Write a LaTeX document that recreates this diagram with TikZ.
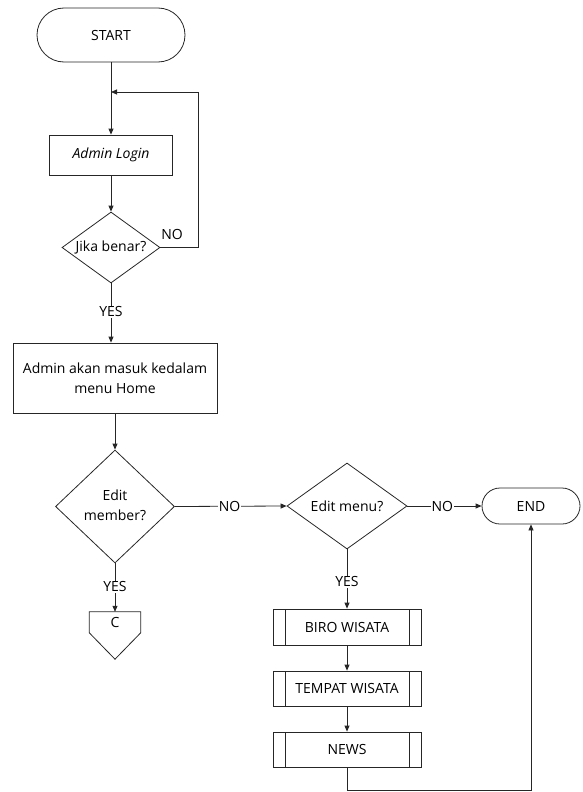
\documentclass[tikz,border=0pt]{standalone}
\usepackage{fontspec}
\setmainfont{Open Sans}
\usetikzlibrary{shapes.geometric,shapes.misc,arrows.meta,calc}
\begin{document}
\begin{tikzpicture}[x=1pt,y=-1pt,
  every node/.style={font=\fontsize{14}{20.5}\selectfont, inner sep=0pt},
  line/.style={line width=0.8pt, draw=black!85},
  arr/.style={line, -{Triangle[length=6pt,width=5pt]}},
  term/.style={rounded rectangle, draw, line width=0.8pt, draw=black!85},
  proc/.style={rectangle, draw, line width=0.8pt, draw=black!85, align=center},
  dec/.style={diamond, draw, line width=0.8pt, draw=black!85},
  predef/.style={proc, path picture={
      \draw[line width=0.8pt, draw=black!85] ([xshift=12pt]path picture bounding box.north west) -- ([xshift=12pt]path picture bounding box.south west);
      \draw[line width=0.8pt, draw=black!85] ([xshift=-12pt]path picture bounding box.north east) -- ([xshift=-12pt]path picture bounding box.south east);}},
  lbl/.style={fill=white, inner sep=1pt}
]
\useasboundingbox (0,0) rectangle (582,792);

\node[term, minimum width=148pt, minimum height=54pt] (start) at (111,35) {START};
\node[proc, minimum width=123pt, minimum height=40pt] (login) at (111,155) {\itshape Admin Login};
\node[dec, minimum width=98pt, minimum height=71pt] (cek) at (111,247.5) {\makebox[0pt]{Jika benar?}};
\node[proc, minimum width=204pt, minimum height=70pt] (home) at (115,378) {Admin akan masuk kedalam\\menu Home};
\node[dec, minimum width=119pt, minimum height=113pt] (member) at (115,506.5) {\makebox[0pt]{\begin{tabular}{@{}c@{}}Edit\\member?\end{tabular}}};
\node[minimum width=51pt, minimum height=47pt] (c) at (115,635.5) {};
\draw[line] (c.north west) -- (c.north east) -- ($(c.north east)+(0,21)$) -- (c.south) -- ($(c.north west)+(0,21)$) -- cycle;
\node (ctext) at (115,622) {C};

\node[dec, minimum width=120pt, minimum height=86pt] (menu) at (347,506) {\makebox[0pt]{Edit menu?}};
\node[term, minimum width=98pt, minimum height=36pt] (end) at (531,506) {END};
\node[predef, minimum width=148pt, minimum height=36pt] (biro) at (347,627) {BIRO WISATA};
\node[predef, minimum width=148pt, minimum height=35pt] (tempat) at (347,688.5) {TEMPAT WISATA};
\node[predef, minimum width=148pt, minimum height=35pt] (news) at (347,749.5) {NEWS};

\coordinate (loop) at (111,92);
\coordinate (loopa) at (198,247.5);
\coordinate (loopb) at (198,92);
\coordinate (bl) at (347,790);
\coordinate (br) at (531,790);

\draw[arr] (start.south) -- (login.north);
\draw[arr] (login.south) -- (cek.north);
\draw[arr] (cek.east) -- (loopa) -- (loopb) -- (loop);
\node at (172,234) {NO};
\draw[arr] (cek.south) -- (cek.south |- home.north) node[lbl, pos=0.48] {YES};
\draw[arr] (home.south) -- (member.north);
\draw[arr] (member.east) -- (menu.west) node[lbl, pos=0.49] {NO};
\draw[arr] (member.south) -- (c.north) node[lbl, pos=0.48] {YES};
\draw[arr] (menu.east) -- (end.west) node[lbl, pos=0.47] {NO};
\draw[arr] (menu.south) -- (biro.north) node[lbl, pos=0.55] {YES};
\draw[arr] (biro.south) -- (tempat.north);
\draw[arr] (tempat.south) -- (news.north);
\draw[arr] (news.south) -- (bl) -- (br) -- (end.south);
\end{tikzpicture}
\end{document}
